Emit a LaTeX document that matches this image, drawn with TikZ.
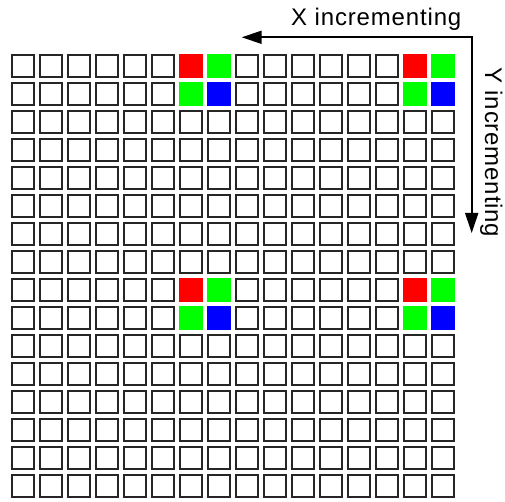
\documentclass[tikz,border=0pt]{standalone}
\usepackage{fontspec}
\setmainfont{Liberation Sans}
\usetikzlibrary{arrows.meta}
\begin{document}
\begin{tikzpicture}[x=1pt,y=1pt,
  cell/.style={draw=black!85, line width=2pt, minimum size=22pt, inner sep=0pt, fill=white},
  pix/.style={minimum size=24pt, inner sep=0pt, draw=none},
  ax/.style={line width=1.8pt, line join=miter, {Triangle[length=20pt,width=13pt]}-{Triangle[length=20pt,width=13pt]}},
  lbl/.style={font=\fontsize{24}{28}\selectfont\addfontfeature{LetterSpace=3.5}, inner sep=0pt}]
\useasboundingbox (0,0) rectangle (505,502);
\definecolor{pr}{RGB}{255,0,0}
\definecolor{pg}{RGB}{0,255,0}
\definecolor{pb}{RGB}{0,0,255}
\foreach \r in {0,...,15}{
  \foreach \c in {0,...,15}{
    \pgfmathtruncatemacro\rr{mod(\r,8)}
    \pgfmathtruncatemacro\cc{mod(\c,8)}
    \pgfmathtruncatemacro\k{(\rr<2)*(\cc>5)*(1+\rr+\cc-6)}
    \ifcase\k
      \node[cell] (c-\r-\c) at ({23.3+28*\c},{436-28*\r}) {};
    \or
      \node[pix,fill=pr] (c-\r-\c) at ({23.3+28*\c},{436-28*\r}) {};
    \or
      \node[pix,fill=pg] (c-\r-\c) at ({23.3+28*\c},{436-28*\r}) {};
    \or
      \node[pix,fill=pb] (c-\r-\c) at ({23.3+28*\c},{436-28*\r}) {};
    \fi
  }
}
\coordinate (corner) at (471.7,464.7);
\coordinate (xend) at (241.7,464.7);
\coordinate (yend) at (471.7,269);
\draw[ax] (xend) -- (corner) -- (yend);
\node[lbl, anchor=base west] (xlbl) at (291,476) {X incrementing};
\node[lbl, anchor=base west, rotate=-90] (ylbl) at (485,435) {Y incrementing};
\end{tikzpicture}
\end{document}
